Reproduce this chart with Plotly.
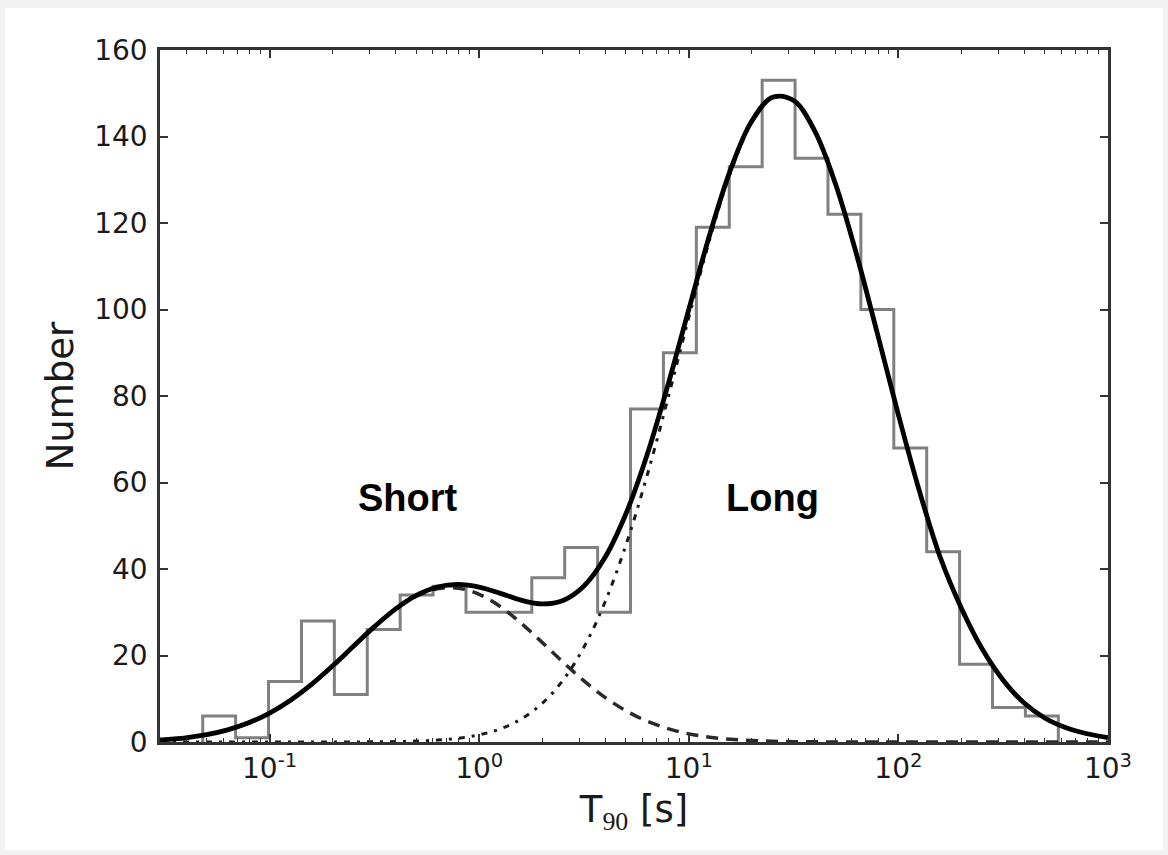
import math
import plotly.graph_objects as go

# ---------------- data ----------------
# histogram bin edges (log10 of T90 in s) and counts per bin
log_edges = [-1.319, -1.162, -1.005, -0.848, -0.691, -0.534, -0.377, -0.220,
             -0.063, 0.094, 0.251, 0.408, 0.565, 0.722, 0.879, 1.036, 1.193,
             1.350, 1.507, 1.664, 1.821, 1.978, 2.135, 2.292, 2.449, 2.606, 2.763]
counts = [6, 1, 14, 28, 11, 26, 34, 36, 30, 30, 38, 45, 30, 77, 90, 119, 133,
          153, 135, 122, 100, 68, 44, 18, 8, 6]

# fit curves sampled along log10(T90)
grid_log = [-1.523, -1.5, -1.4, -1.3, -1.2, -1.1, -1.0, -0.9, -0.8, -0.7, -0.6,
            -0.5, -0.4, -0.3, -0.2, -0.1, 0.0, 0.1, 0.2, 0.3, 0.4, 0.5, 0.6,
            0.7, 0.8, 0.9, 1.0, 1.1, 1.2, 1.3, 1.4, 1.5, 1.6, 1.7, 1.8, 1.9,
            2.0, 2.1, 2.2, 2.3, 2.4, 2.5, 2.6, 2.7, 2.8, 2.9, 3.0]
short_fit = [0.47, 0.54, 0.98, 1.70, 2.81, 4.43, 6.69, 9.66, 13.32, 17.55, 22.11,
             26.63, 30.63, 33.69, 35.41, 35.57, 34.15, 31.34, 27.48, 23.03, 18.45,
             14.13, 10.33, 7.23, 4.83, 3.09, 1.88, 1.10, 0.61, 0.33, 0.17, 0.08,
             0.04, 0.02, 0.01, 0, 0, 0, 0, 0, 0, 0, 0, 0, 0, 0, 0]
long_fit = [0, 0, 0, 0, 0, 0, 0, 0, 0, 0.01, 0.02, 0.04, 0.10, 0.21, 0.44, 0.87,
            1.66, 3.03, 5.31, 8.91, 14.29, 21.95, 32.31, 45.54, 61.42, 79.35,
            98.16, 116.25, 131.84, 143.19, 148.88, 148.23, 141.33, 129.0, 112.77,
            94.39, 75.64, 58.05, 42.66, 31.0, 21.5, 14.3, 9.0, 5.5, 3.3, 1.9, 1.0]

x_tick_vals = [0.1, 1, 10, 100, 1000]
x_tick_text = ["10<sup>-1</sup>", "10<sup>0</sup>", "10<sup>1</sup>",
               "10<sup>2</sup>", "10<sup>3</sup>"]
y_tick_vals = [0, 20, 40, 60, 80, 100, 120, 140, 160]
labels = ["Short", "Long"]
label_x_log = [-0.34, 1.40]
label_y = [56.5, 56.5]

# ---------------- derived ----------------
edges = [10 ** e for e in log_edges]
grid = [10 ** g for g in grid_log]
total_fit = [s + l for s, l in zip(short_fit, long_fit)]
hx = [edges[0]] + edges
hy = [0] + counts + [0]
minor_vals = [m * 10 ** d for d in range(-2, 3) for m in range(2, 10)
              if m * 10 ** d >= 0.03]

fig = go.Figure()
fig.add_trace(go.Scatter(x=hx, y=hy, mode="lines",
                         line=dict(shape="hv", color="#808080", width=3)))
fig.add_trace(go.Scatter(x=grid, y=short_fit, mode="lines",
                         line=dict(shape="spline", color="#2a2a2a", width=3.5,
                                   dash="12px,8px")))
fig.add_trace(go.Scatter(x=grid, y=long_fit, mode="lines",
                         line=dict(shape="spline", color="#1a1a1a", width=3,
                                   dash="6px,7px,3px,7px")))
fig.add_trace(go.Scatter(x=grid, y=total_fit, mode="lines",
                         line=dict(shape="spline", color="black", width=4.8)))

for txt, xl, yl in zip(labels, label_x_log, label_y):
    fig.add_annotation(x=xl, y=yl, xref="x", yref="y", text="<b>%s</b>" % txt,
                       showarrow=False,
                       font=dict(family="Liberation Sans", size=38, color="black"))

axis_common = dict(ticks="inside", tickcolor="#333333", tickwidth=1.5,
                   showline=True, linecolor="#333333", linewidth=2.5,
                   mirror="ticks", showgrid=False, zeroline=False,
                   tickfont=dict(family="DejaVu Sans", size=28, color="#1a1a1a"))

fig.update_xaxes(type="log", range=[math.log10(0.03), 3],
                 tickmode="array", tickvals=x_tick_vals, ticktext=x_tick_text,
                 ticklen=8,
                 minor=dict(tickmode="array", tickvals=minor_vals, ticks="inside",
                            ticklen=4, tickcolor="#333333", tickwidth=1,
                            showgrid=False),
                 title=dict(text='T<sub><span style="font-family:Liberation Serif">90</span></sub> [s]',
                            font=dict(family="DejaVu Sans", size=37, color="#1a1a1a"),
                            standoff=12),
                 **axis_common)
fig.update_yaxes(range=[0, 160], tickmode="array", tickvals=y_tick_vals,
                 ticklen=8, ticklabelstandoff=4,
                 title=dict(text="Number",
                            font=dict(family="DejaVu Sans", size=37, color="#1a1a1a"),
                            standoff=10),
                 **axis_common)

# light grey page frame around the white figure
fig.add_shape(type="rect", xref="paper", yref="paper",
              x0=(5 - 160) / 948, x1=(1163 - 160) / 948,
              y0=(742 - 850) / 692, y1=(742 - 8) / 692,
              fillcolor="white", line=dict(width=0), layer="below")

fig.update_layout(width=1168, height=855,
                  margin=dict(l=160, r=60, t=50, b=113),
                  paper_bgcolor="#f2f2f2", plot_bgcolor="white",
                  showlegend=False)

fig.write_html("out.html")
